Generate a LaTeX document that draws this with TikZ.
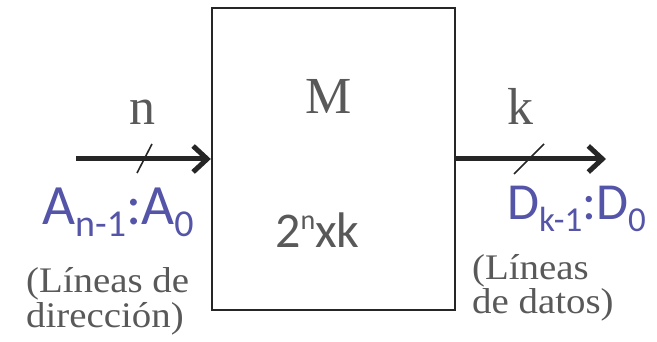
\documentclass[tikz,border=0pt]{standalone}
\usepackage{fontspec}
\setmainfont{Liberation Serif}
\newfontfamily\serifwide[FakeStretch=1.08]{Liberation Serif}
\newfontfamily\calib{Carlito}
\usetikzlibrary{arrows.meta}
\definecolor{txtgray}{RGB}{89,89,89}
\definecolor{lblblue}{RGB}{84,84,168}
\definecolor{linedark}{RGB}{38,38,38}
\tikzset{
  busarrow/.style={line width=5pt, draw=linedark, -{Straight Barb[length=14pt,width=26pt]}},
  slashmark/.style={line width=1.6pt, draw=linedark},
  bigserif/.style={inner sep=0pt, text=txtgray, font=\fontsize{52}{52}\selectfont},
  note/.style={inner sep=0pt, text=txtgray, align=left, font=\serifwide\fontsize{36}{35}\selectfont},
  sig/.style={inner sep=0pt, text=lblblue},
  memblock/.style={draw=linedark, line width=2.4pt, minimum width=243pt, minimum height=302pt, inner sep=0pt}
}
\newcommand{\subtx}[2]{\raisebox{-12pt}{\fontsize{#1}{#1}\selectfont #2}}
\begin{document}
\begin{tikzpicture}[x=1pt,y=-1pt]
\useasboundingbox (0,0) rectangle (657,342);
\node[memblock] (mem) at (333.5,159) {};
\node[bigserif, anchor=base] (mlbl) at (328.5,114) {M};
\node[inner sep=0pt, anchor=base west, text=txtgray, font=\calib\fontsize{50}{50}\selectfont] (size) at (275,248) {2\raisebox{18pt}{\fontsize{28}{28}\selectfont n}xk};
% input bus
\coordinate (ain) at (76,159);
\draw[busarrow] (ain) -- (mem.west);
\coordinate (s1a) at (137,173);
\coordinate (s1b) at (152,144);
\draw[slashmark] (s1a) -- (s1b);
\node[bigserif, anchor=base] (nlbl) at (142,125) {n};
% output bus
\coordinate (dout) at (606,159);
\draw[busarrow] (mem.east) -- (dout);
\coordinate (s2a) at (514,174);
\coordinate (s2b) at (544,144);
\draw[slashmark] (s2a) -- (s2b);
\node[bigserif, anchor=base] (klbl) at (520,125) {k};
% signal labels
\node[sig, anchor=base west, font=\calib\fontsize{57}{57}\selectfont] (alab) at (42,225) {A\subtx{38}{n-1}:A\subtx{38}{0}};
\node[sig, anchor=base west, font=\calib\fontsize{52}{52}\selectfont] (dlab) at (507,220) {D\subtx{35}{k-1}:D\subtx{35}{0}};
% notes (base anchor = last line baseline)
\node[note, anchor=base west] (lnote) at (26,327) {(Líneas de\\dirección)};
\node[note, anchor=base west] (rnote) at (472,314) {(Líneas\\de datos)};
\end{tikzpicture}
\end{document}
